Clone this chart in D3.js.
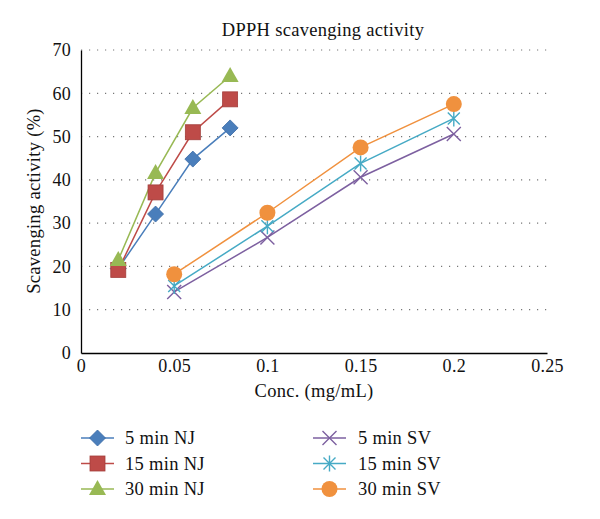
<!DOCTYPE html>
<html><head><meta charset="utf-8">
<script src="https://cdn.jsdelivr.net/npm/d3@7"></script>
<style>body{margin:0;background:#fff}svg{display:block}text{font-family:"Liberation Serif","Times New Roman",serif;fill:#111}</style>
</head><body><svg id="c" width="600" height="519"></svg>
<script>
const xNJ = [0.02, 0.04, 0.06, 0.08];
const xSV = [0.05, 0.1, 0.15, 0.2];
const nj5 = [19.5, 32.1, 44.8, 52.0];
const nj15 = [19.2, 37.1, 51.0, 58.6];
const nj30 = [21.5, 41.6, 56.6, 64.0];
const sv5 = [14.1, 26.7, 40.6, 50.6];
const sv15 = [15.5, 29.3, 43.8, 54.2];
const sv30 = [18.2, 32.4, 47.5, 57.5];
const seriesNames = ["5 min NJ","15 min NJ","30 min NJ","5 min SV","15 min SV","30 min SV"];
const colors = ["#4a7ebb","#be4b48","#98b954","#7d60a0","#46aac5","#f0913e"];
const markers = ["diamond","square","triangle","x","star","circle"];
const xTicks = [0,0.05,0.1,0.15,0.2,0.25];
const yTicks = [0,10,20,30,40,50,60,70];

const series = [
  {x:xNJ,y:nj5},{x:xNJ,y:nj15},{x:xNJ,y:nj30},
  {x:xSV,y:sv5},{x:xSV,y:sv15},{x:xSV,y:sv30}
].map((s,i)=>({...s,name:seriesNames[i],color:colors[i],marker:markers[i]}));

const svg = d3.select("#c");
const L=81,R=547,T=50,B=353;
const x = d3.scaleLinear().domain([0,0.25]).range([L,R]);
const y = d3.scaleLinear().domain([0,70]).range([B,T]);

// grid
svg.append("g").selectAll("line").data(yTicks.filter(d=>d>0)).join("line")
  .attr("x1",L).attr("x2",R).attr("y1",d=>y(d)).attr("y2",d=>y(d))
  .attr("stroke","#777").attr("stroke-width",1.2).attr("stroke-dasharray","1.2,6.8");

// axes
const ya = svg.append("g").attr("transform",`translate(${L},0)`)
  .call(d3.axisLeft(y).tickValues(yTicks).tickSize(0).tickPadding(10).tickFormat(d3.format("d")));
const xa = svg.append("g").attr("transform",`translate(0,${B})`)
  .call(d3.axisBottom(x).tickValues(xTicks).tickSize(0).tickPadding(6).tickFormat(d=>d===0?"0":String(d)));
[ya,xa].forEach(a=>{a.select(".domain").attr("stroke","#000").attr("stroke-width",1.3);
  a.selectAll("text").style("font-family",'"Liberation Serif",serif').style("font-size","18px").style("letter-spacing","0.3px").attr("fill","#111");});

// title and labels
const big = "18.5px";
svg.append("text").attr("x",323).attr("y",36).attr("text-anchor","middle").style("font-size",big).style("letter-spacing","0.3px").text("DPPH scavenging activity");
svg.append("text").attr("x",314).attr("y",397).attr("text-anchor","middle").style("font-size",big).style("letter-spacing","0.3px").text("Conc. (mg/mL)");
svg.append("text").attr("transform","translate(40,201) rotate(-90)").attr("text-anchor","middle").style("font-size",big).style("letter-spacing","0.3px").text("Scavenging activity (%)");

function drawMarker(g, type, color){
  switch(type){
    case "diamond": g.append("path").attr("d","M0,-8L8,0L0,8L-8,0Z").attr("fill",color).attr("stroke","#3a6aa5").attr("stroke-width",0.8); break;
    case "square": g.append("rect").attr("x",-7.5).attr("y",-7.5).attr("width",15).attr("height",15).attr("fill",color).attr("stroke","#a33e3b").attr("stroke-width",0.8); break;
    case "triangle": g.append("path").attr("d","M0,-9L8.5,6L-8.5,6Z").attr("fill",color); break;
    case "x": g.append("path").attr("d","M-7,-7L7,7M-7,7L7,-7").attr("stroke",color).attr("stroke-width",1.4).attr("fill","none"); break;
    case "star": g.append("path").attr("d","M-6,-6L6,6M-6,6L6,-6M0,-8L0,8").attr("stroke",color).attr("stroke-width",1.4).attr("fill","none"); break;
    case "circle": g.append("circle").attr("r",8).attr("fill",color); break;
  }
}

const line = d3.line();
series.forEach(s=>{
  const pts = s.x.map((xv,i)=>[x(xv),y(s.y[i])]);
  svg.append("path").attr("d",line(pts)).attr("fill","none").attr("stroke",s.color).attr("stroke-width",1.5);
});
series.forEach(s=>{
  s.x.forEach((xv,i)=>{
    const g = svg.append("g").attr("transform",`translate(${x(xv)},${y(s.y[i])})`);
    drawMarker(g,s.marker,s.color);
  });
});

// legend
series.forEach((s,i)=>{
  const col = Math.floor(i/3), row = i%3;
  const lx = col===0?81:313, ly = 438+row*25.5;
  const g = svg.append("g").attr("transform",`translate(${lx},${ly})`);
  g.append("line").attr("x1",0).attr("x2",33).attr("stroke",s.color).attr("stroke-width",1.5);
  const m = g.append("g").attr("transform","translate(16.5,0)");
  drawMarker(m,s.marker,s.color);
  g.append("text").attr("x",col===0?44:45).attr("y",6).style("font-size",big).style("letter-spacing","0.3px").text(s.name);
});
</script></body></html>
